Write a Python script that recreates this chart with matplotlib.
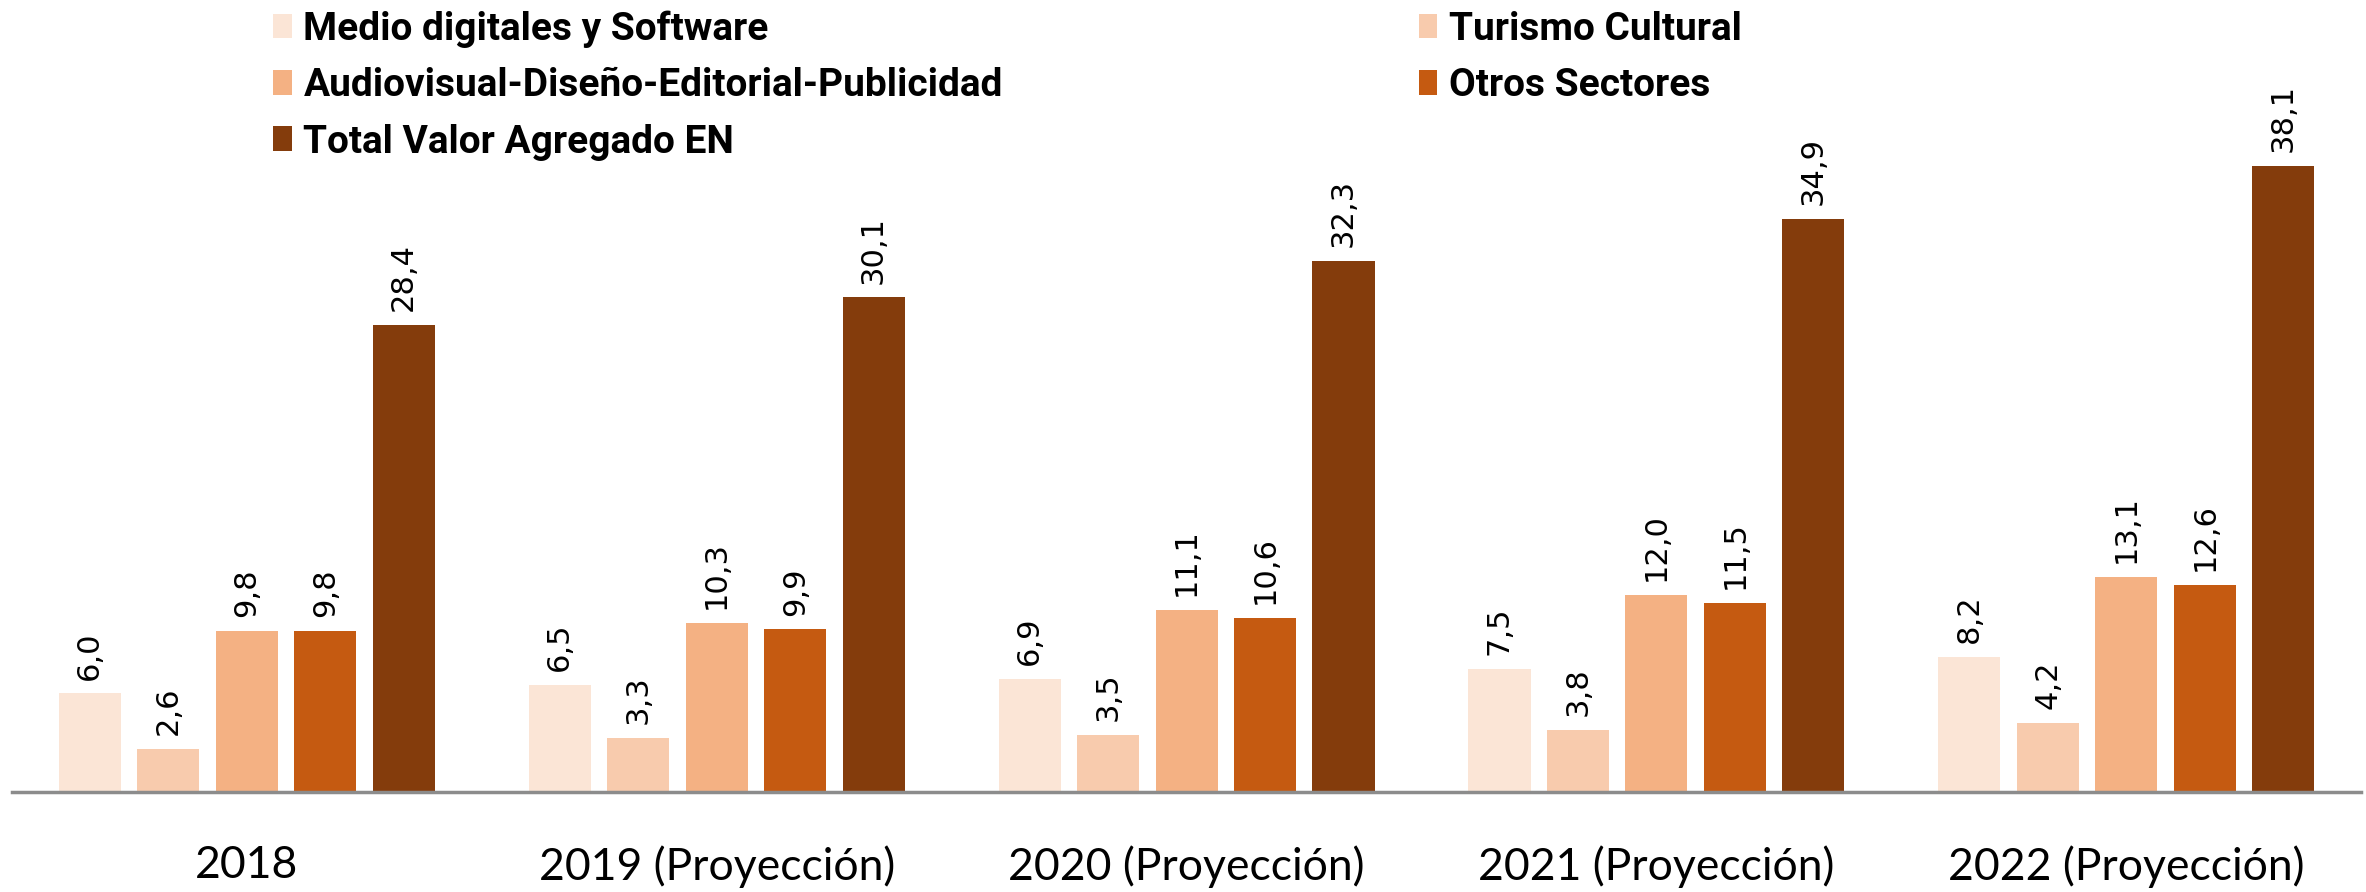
import numpy as np
import matplotlib.pyplot as plt
from matplotlib.patches import Patch

years = ["2018", "2019 (Proyección)", "2020 (Proyección)",
         "2021 (Proyección)", "2022 (Proyección)"]
series_names = ["Medio digitales y Software", "Turismo Cultural",
                "Audiovisual-Diseño-Editorial-Publicidad", "Otros Sectores",
                "Total Valor Agregado EN"]
medios = [6.0, 6.5, 6.9, 7.5, 8.2]
turismo = [2.6, 3.3, 3.5, 3.8, 4.2]
audiovisual = [9.8, 10.3, 11.1, 12.0, 13.1]
otros = [9.8, 9.9, 10.6, 11.5, 12.6]
total = [28.4, 30.1, 32.3, 34.9, 38.1]

colors = ["#FBE5D6", "#F8CBAD", "#F4B183", "#C55A11", "#843C0C"]


def fmt(v):
    return f"{v:.1f}".replace(".", ",")


def main():
    fig = plt.figure(figsize=(23.66, 8.92), dpi=100)
    ax = fig.add_axes([0.005, 0.112, 0.993, 0.888])

    x = np.arange(len(years))
    pitch = 0.167
    width = 0.132
    all_series = [medios, turismo, audiovisual, otros, total]
    for i, vals in enumerate(all_series):
        pos = x + (i - 2) * pitch
        ax.bar(pos, vals, width=width, color=colors[i], zorder=2)
        for xp, v in zip(pos, vals):
            ax.annotate(fmt(v), (xp, v), xytext=(0, 10), textcoords="offset points",
                        rotation=90, ha="center", va="bottom",
                        fontsize=22, family="DejaVu Sans")

    ax.set_xlim(-0.5, 4.5)
    ax.set_ylim(0, 48.2)
    for s in ["top", "right", "left"]:
        ax.spines[s].set_visible(False)
    ax.spines["bottom"].set_color("#8C8C8C")
    ax.spines["bottom"].set_linewidth(2.5)
    ax.set_yticks([])
    ax.set_xticks(x)
    ax.set_xticklabels(years, fontsize=32, family="Lato")
    ax.tick_params(axis="x", length=0, pad=38)

    # legend: column-first fill, so Medio/Audio/Total left, Turismo/Otros right
    order = [0, 2, 4, 1, 3]
    handles = [Patch(facecolor=colors[i]) for i in order]
    labels = [series_names[i] for i in order]
    fig.legend(handles, labels, ncol=2, loc="upper left",
               bbox_to_anchor=(0.109, 1.006), frameon=False, borderaxespad=0,
               prop={"family": "Roboto", "weight": "bold", "size": 28},
               handlelength=0.47, handleheight=0.6, handletextpad=0.3,
               columnspacing=10.7, labelspacing=0.5)

    fig.savefig("out.png", dpi=100)


if __name__ == "__main__":
    main()
